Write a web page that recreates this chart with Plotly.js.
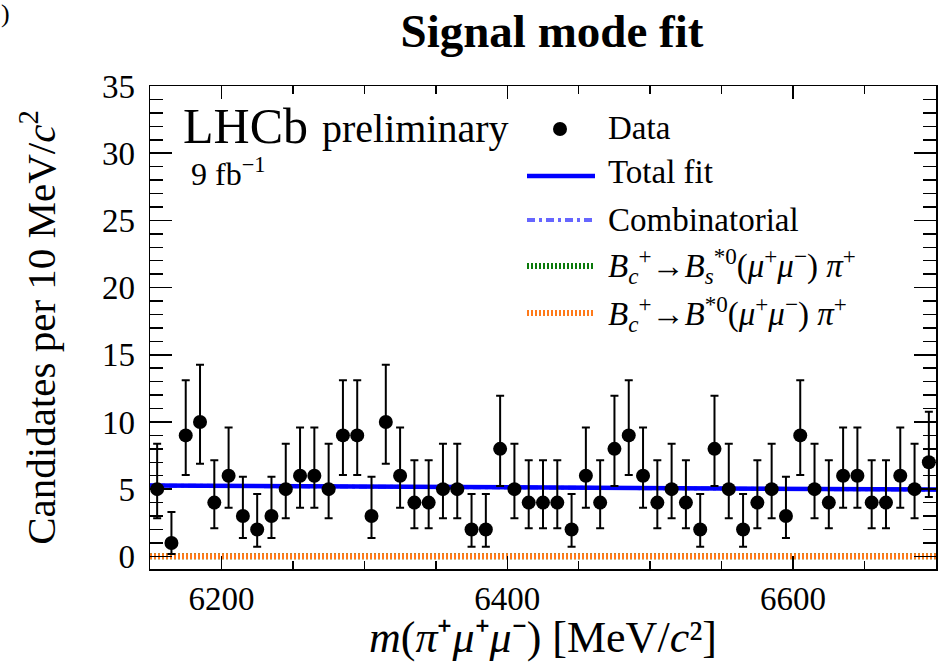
<!DOCTYPE html>
<html>
<head>
<meta charset="utf-8">
<script src="https://cdn.plot.ly/plotly-3.0.1.min.js"></script>
<style>
  html, body { margin: 0; padding: 0; background: #ffffff; }
  #chart { width: 943px; height: 662px; }
</style>
</head>
<body>
<div id="chart"></div>
<script>
// Bin centres of the m(pi+ mu+ mu-) histogram, 10 MeV/c^2 bins
const binCentres = [6155, 6165, 6175, 6185, 6195, 6205, 6215, 6225, 6235, 6245,
                    6255, 6265, 6275, 6285, 6295, 6305, 6315, 6325, 6335, 6345,
                    6355, 6365, 6375, 6385, 6395, 6405, 6415, 6425, 6435, 6445,
                    6455, 6465, 6475, 6485, 6495, 6505, 6515, 6525, 6535, 6545,
                    6555, 6565, 6575, 6585, 6595, 6605, 6615, 6625, 6635, 6645,
                    6655, 6665, 6675, 6685, 6695];

// Candidates per bin
const candidates = [5, 1, 9, 10, 4, 6, 3, 2, 3, 5,
                    6, 6, 5, 9, 9, 3, 10, 6, 4, 4,
                    5, 5, 2, 2, 8, 5, 4, 4, 4, 2,
                    6, 4, 8, 9, 6, 4, 5, 4, 2, 8,
                    5, 2, 4, 5, 3, 9, 5, 4, 6, 6,
                    4, 4, 6, 5, 7];

// Asymmetric Poisson (68.3%) uncertainties by observed count
const poissonErrLow  = {1: 0.83, 2: 1.29, 3: 1.63, 4: 1.91, 5: 2.16, 6: 2.38, 7: 2.58, 8: 2.77, 9: 2.94, 10: 3.11};
const poissonErrHigh = {1: 2.30, 2: 2.64, 3: 2.92, 4: 3.16, 5: 3.38, 6: 3.58, 7: 3.77, 8: 3.95, 9: 4.11, 10: 4.26};

// Fit components evaluated along the mass range
const fitMass        = [6150, 6275, 6400, 6550, 6700];
const totalFit       = [5.28, 5.20, 5.12, 5.04, 4.97];
const combinatorial  = [5.27, 5.19, 5.11, 5.03, 4.96];
const bcToBsStar     = [0, 0, 0, 0, 0];
const bcToBStar      = [0, 0, 0, 0, 0];

// Axis ticks
const xTickVals = [6200, 6400, 6600];
const xTickText = ['6200', '6400', '6600'];
const yTickVals = [0, 5, 10, 15, 20, 25, 30, 35];
const yTickText = ['0', '5', '10', '15', '20', '25', '30', '35'];

const W = 943, H = 662;
const M = { l: 150, r: 7, t: 86, b: 93 };
const PW = W - M.l - M.r, PH = H - M.t - M.b;
const px = x => (x - M.l) / PW;
const py = y => (H - M.b - y) / PH;

const SERIF = 'Liberation Serif, Times New Roman, serif';

const colTotal = '#0000ff';
const colComb = '#6666ff';
const colBs = '#0b7a0b';
const colB = '#ff7a1a';

const errPlus = candidates.map(n => poissonErrHigh[n]);
const errMinus = candidates.map(n => poissonErrLow[n]);

const traces = [
  { x: fitMass, y: combinatorial, type: 'scatter', mode: 'lines',
    line: { color: colComb, width: 4, dash: '8px,4px,3px,4px' }, hoverinfo: 'skip', showlegend: false },
  { x: fitMass, y: bcToBsStar, type: 'scatter', mode: 'lines',
    line: { color: colBs, width: 6, dash: '2px,2px' }, hoverinfo: 'skip', showlegend: false },
  { x: fitMass, y: bcToBStar, type: 'scatter', mode: 'lines',
    line: { color: colB, width: 6, dash: '2px,2px' }, hoverinfo: 'skip', showlegend: false },
  { x: fitMass, y: totalFit, type: 'scatter', mode: 'lines',
    line: { color: colTotal, width: 4.5 }, hoverinfo: 'skip', showlegend: false },
  { x: binCentres, y: candidates, type: 'scatter', mode: 'markers',
    marker: { color: '#000000', size: 14, symbol: 'circle' },
    error_y: { type: 'data', symmetric: false, array: errPlus, arrayminus: errMinus,
               color: '#000000', thickness: 2, width: 4 },
    showlegend: false }
];

// Legend block drawn inside the frame
const legX0 = 527, legX1 = 595, legText = 606;
const shapes = [
  { type: 'circle', xref: 'paper', yref: 'paper',
    x0: px(553), x1: px(567), y0: py(136), y1: py(122),
    fillcolor: '#000000', line: { width: 0 } },
  { type: 'line', xref: 'paper', yref: 'paper', x0: px(legX0), x1: px(legX1), y0: py(176), y1: py(176),
    line: { color: colTotal, width: 4.5 } },
  { type: 'line', xref: 'paper', yref: 'paper', x0: px(legX0), x1: px(legX1), y0: py(220), y1: py(220),
    line: { color: colComb, width: 4, dash: '8px,4px,3px,4px' } },
  { type: 'line', xref: 'paper', yref: 'paper', x0: px(legX0), x1: px(legX1), y0: py(266), y1: py(266),
    line: { color: colBs, width: 6, dash: '2px,2px' } },
  { type: 'line', xref: 'paper', yref: 'paper', x0: px(legX0), x1: px(legX1), y0: py(313), y1: py(313),
    line: { color: colB, width: 6, dash: '2px,2px' } }
];

const ann = (text, x, y, size, extra) => Object.assign({
  text: text, xref: 'paper', yref: 'paper', x: px(x), y: py(y),
  xanchor: 'left', yanchor: 'middle', showarrow: false,
  font: { family: SERIF, size: size, color: '#000000' }
}, extra || {});

const annotations = [
  ann('Data', legText, 128, 33),
  ann('Total fit', legText, 172, 33),
  ann('Combinatorial', legText, 220, 33),
  ann('<i>B</i><sub><i>c</i></sub><sup>+</sup>→<i>B</i><sub><i>s</i></sub><sup>*0</sup>(<i>μ</i><sup>+</sup><i>μ</i><sup>−</sup>) <i>π</i><sup>+</sup>', legText, 266, 33, { height: 40 }),
  ann('<i>B</i><sub><i>c</i></sub><sup>+</sup>→<i>B</i><sup>*0</sup>(<i>μ</i><sup>+</sup><i>μ</i><sup>−</sup>) <i>π</i><sup>+</sup>', legText, 314, 33, { height: 40 }),
  ann('LHCb', 181, 126, 50, { height: 46 }),
  ann('preliminary', 320, 128, 40),
  ann('9 fb<sup>−1</sup>', 189, 172, 32),
  ann(')', 0, 14, 26, { borderpad: 0 })
];

const layout = {
  width: W, height: H,
  margin: M,
  paper_bgcolor: '#ffffff', plot_bgcolor: '#ffffff',
  showlegend: false,
  title: { text: '<b>Signal mode fit</b>', xref: 'container', yref: 'container',
           x: 552 / W, y: 1 - 31 / H, xanchor: 'center', yanchor: 'middle',
           font: { family: SERIF, size: 47, color: '#000000' } },
  xaxis: {
    range: [6150, 6700], tickmode: 'array', tickvals: xTickVals, ticktext: xTickText,
    ticks: 'inside', ticklen: 13, tickwidth: 1.5, tickcolor: '#000000',
    minor: { dtick: 50, tick0: 6150, ticks: 'inside', ticklen: 8, tickwidth: 1.5, tickcolor: '#000000' },
    showline: true, linewidth: 1.5, linecolor: '#000000', mirror: 'ticks',
    showgrid: false, zeroline: false,
    tickfont: { family: SERIF, size: 33, color: '#000000' },
    title: { text: '<i>m</i>(<i>π</i>⁺<i>μ</i>⁺<i>μ</i>⁻) [MeV/<i>c</i>²]',
             font: { family: SERIF, size: 44, color: '#000000' }, standoff: 4 }
  },
  yaxis: {
    range: [-0.94, 35], tickmode: 'array', tickvals: yTickVals, ticktext: yTickText,
    ticks: 'inside', ticklen: 22, tickwidth: 1.5, tickcolor: '#000000',
    minor: { dtick: 1, tick0: 0, ticks: 'inside', ticklen: 13, tickwidth: 1.5, tickcolor: '#000000' },
    showline: true, linewidth: 1.5, linecolor: '#000000', mirror: 'ticks',
    showgrid: false, zeroline: false,
    tickfont: { family: SERIF, size: 33, color: '#000000' },
    ticklabelstandoff: 7,
    title: { text: 'Candidates per 10 MeV/<i>c</i><sup>2</sup>',
             font: { family: SERIF, size: 41, color: '#000000' }, standoff: 33 }
  },
  shapes: shapes,
  annotations: annotations
};

Plotly.newPlot('chart', traces, layout, { staticPlot: true, displayModeBar: false });
</script>
</body>
</html>
